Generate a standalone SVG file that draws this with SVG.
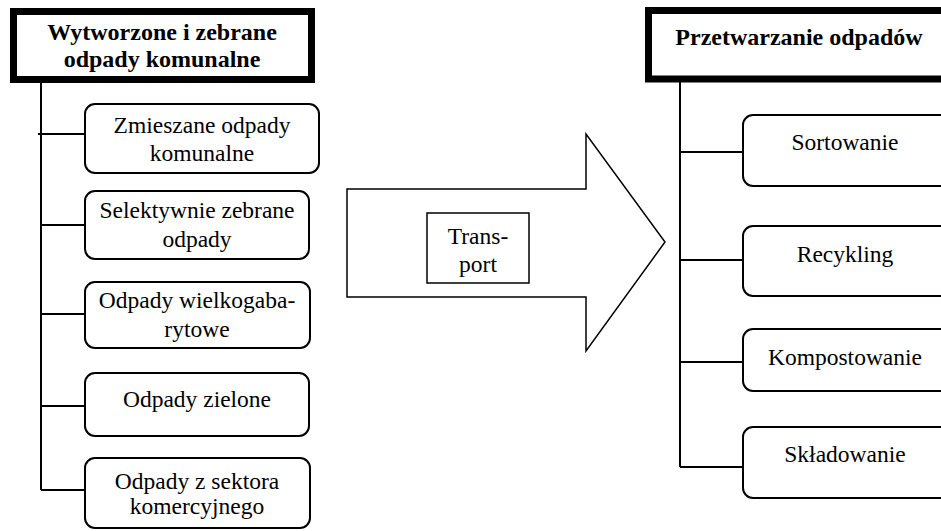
<svg xmlns="http://www.w3.org/2000/svg" width="941" height="531" viewBox="0 0 941 531">
<style>
text{font-family:'Liberation Serif','Times New Roman',Tinos,'DejaVu Serif',serif;font-size:23.5px;fill:#000;text-anchor:middle}
.b{font-weight:bold;font-size:24px}
.hdr{fill:#fff;stroke:#000;stroke-width:7}
.box{fill:#fff;stroke:#000;stroke-width:2}
.ln{fill:none;stroke:#000;stroke-width:2}
</style>
<rect width="941" height="531" fill="#fff"/>
<g id="connectors">
<path class="ln" d="M41,83 V490 M38,134 H85 M41,225 H85 M41,314 H85 M41,406 H85 M41,490 H85"/>
<path class="ln" d="M680,82 V467 M680,152 H743 M680,260 H743 M680,362 H743 M680,467 H743"/>
</g>
<g id="left-header">
<rect class="hdr" x="13.5" y="11.5" width="298" height="68"/>
<text class="b" x="162" y="40" font-family="Liberation Serif, serif">Wytworzone i zebrane</text>
<text class="b" x="162" y="67" font-family="Liberation Serif, serif">odpady komunalne</text>
</g>
<g id="zmieszane">
<rect class="box" x="85" y="104" width="234" height="69" rx="10"/>
<text x="202" y="133">Zmieszane odpady</text>
<text x="202" y="161">komunalne</text>
</g>
<g id="selektywnie">
<rect class="box" x="85" y="191" width="224" height="68" rx="10"/>
<text x="197" y="218">Selektywnie zebrane</text>
<text x="197" y="247">odpady</text>
</g>
<g id="wielkogabarytowe">
<rect class="box" x="85" y="282" width="225" height="66" rx="10"/>
<text x="197" y="308">Odpady wielkogaba-</text>
<text x="197" y="337">rytowe</text>
</g>
<g id="zielone">
<rect class="box" x="85" y="373" width="224" height="63" rx="10"/>
<text x="197" y="407">Odpady zielone</text>
</g>
<g id="sektora">
<rect class="box" x="85" y="458" width="225" height="70" rx="10"/>
<text x="197" y="489">Odpady z sektora</text>
<text x="197" y="514">komercyjnego</text>
</g>
<g id="transport-arrow">
<path d="M347,189 H586 V134 L665,242 L586,351 V297 H347 Z" fill="#fff" stroke="#000" stroke-width="1.5"/>
<rect x="427" y="213" width="102" height="70" fill="#fff" stroke="#000" stroke-width="1.5"/>
<text x="478" y="244">Trans-</text>
<text x="478" y="272">port</text>
</g>
<g id="right-header">
<rect class="hdr" x="648.5" y="10.5" width="320" height="68.5"/>
<text class="b" x="799" y="45">Przetwarzanie odpadów</text>
</g>
<g id="sortowanie">
<rect class="box" x="743" y="115" width="230" height="71" rx="10"/>
<text x="845" y="150">Sortowanie</text>
</g>
<g id="recykling">
<rect class="box" x="743" y="226" width="230" height="70" rx="10"/>
<text x="845" y="262">Recykling</text>
</g>
<g id="kompostowanie">
<rect class="box" x="743" y="329" width="230" height="62" rx="10"/>
<text x="845" y="365">Kompostowanie</text>
</g>
<g id="skladowanie">
<rect class="box" x="743" y="427" width="230" height="71" rx="10"/>
<text x="845" y="462">Składowanie</text>
</g>
</svg>
